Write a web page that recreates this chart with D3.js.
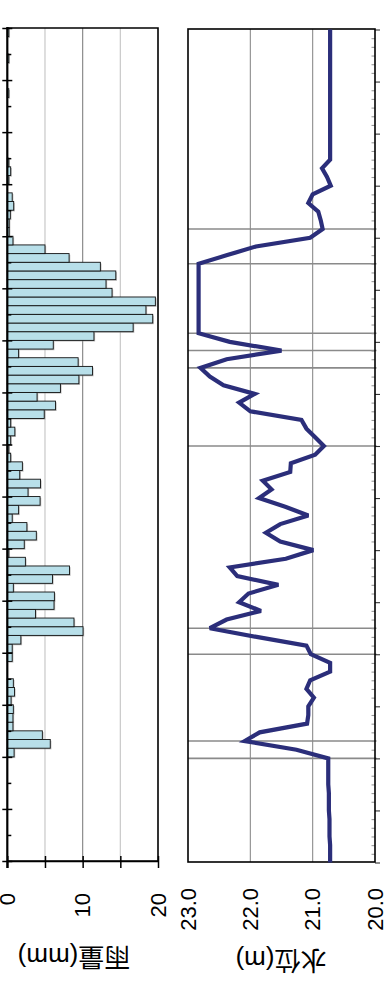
<!DOCTYPE html>
<html>
<head>
<meta charset="utf-8">
<script src="https://cdn.jsdelivr.net/npm/d3@7"></script>
<style>
  html, body { margin: 0; padding: 0; background: #fff; }
  svg { display: block; }
  text { font-family: "Liberation Sans", Arial, "Noto Sans CJK JP", sans-serif; fill: #000; }
</style>
</head>
<body>
<script>
// hourly rainfall (mm), hour 0 .. 95 (chart is drawn turned, time runs bottom -> top)
const rain = [
  0, 0, 0, 0, 0, 0, 0, 0, 0, 0, 0, 0,
  0.9, 5.7, 4.65, 0.75, 0.75, 0.8, 0.5, 0.95, 0.8, 0, 0, 0.65,
  0.65, 1.8, 10.05, 8.85, 3.75, 6.2, 6.25, 0.8, 6.0, 8.25, 2.4, 0.2,
  2.25, 3.85, 2.6, 0.65, 1.5, 4.35, 2.75, 4.4, 1.65, 2.0, 0.45, 0.2,
  0.45, 1.0, 0.45, 4.9, 6.4, 3.95, 7.05, 9.5, 11.3, 9.4, 1.5, 6.1,
  11.5, 16.7, 19.3, 18.4, 19.65, 13.9, 13.1, 14.4, 12.35, 8.2, 5.0, 0.75,
  0.25, 0.25, 0.4, 0.85, 0.65, 0, 0.2, 0.45, 0.2, 0, 0, 0,
  0, 0, 0, 0, 0.2, 0, 0, 0, 0.2, 0, 0, 0.2
];

// water level (m), hour 0 .. 96
const level = [
  20.72, 20.72, 20.72, 20.73, 20.73, 20.73, 20.74, 20.74, 20.74, 20.75, 20.75, 20.75,
  20.75, 21.26, 22.09, 21.85, 21.09, 21.07, 21.07, 20.98, 21.10, 21.04, 20.72, 20.72,
  21.03, 21.10, 21.90, 22.65, 22.38, 21.83, 22.18, 22.03, 21.55, 22.21, 22.33, 21.43,
  20.99, 21.52, 21.75, 21.52, 21.07, 21.44, 21.86, 21.66, 21.80, 21.36, 21.35, 20.96,
  20.82, 20.96, 21.10, 21.18, 22.00, 22.18, 21.93, 22.43, 22.65, 22.80, 22.38, 21.50,
  22.33, 22.83, 22.83, 22.83, 22.83, 22.83, 22.83, 22.83, 22.83, 22.83, 22.37, 21.91,
  21.04, 20.84, 20.87, 20.91, 21.07, 21.00, 20.71, 20.77, 20.85, 20.72, 20.72, 20.72,
  20.72, 20.72, 20.72, 20.72, 20.72, 20.72, 20.72, 20.72, 20.72, 20.72, 20.72, 20.72,
  20.72
];

// hours marked with a grey line on the level panel
const markHours = [12, 14, 24, 27, 48, 57, 59, 61, 69, 73];

const rainTicks = [0, 10, 20];
const rainGrid = [5, 10, 15];
const levelTicks = [23, 22, 21, 20];
const levelGrid = [22, 21];

const rainTitle = "雨量(mm)";
const levelTitle = "水位(m)";

const W = 388, H = 983;
const svg = d3.select("body").append("svg")
  .attr("width", W).attr("height", H);

// ---------- rainfall panel ----------
const rTop = 28, rBot = 861, rLeft = 7.3, rRight = 158;

const xRain = d3.scaleLinear().domain([0, 20]).range([rLeft, rRight]);
const yRain = d3.scaleBand().domain(d3.range(rain.length)).range([rBot, rTop]);
const yHour = d3.scaleLinear().domain([0, 96]).range([rBot, rTop]);

svg.append("g").selectAll("line").data(rainGrid).join("line")
  .attr("x1", d => xRain(d)).attr("x2", d => xRain(d))
  .attr("y1", rTop).attr("y2", rBot)
  .attr("stroke", d => d === 10 ? "#8c8c8c" : "#c8c8c8")
  .attr("stroke-width", 1.2);

const bars = svg.append("g");
const rainData = rain.map((v, i) => ({ v, i })).filter(d => d.v > 0);

bars.selectAll("rect.shadow").data(rainData).join("rect")
  .attr("class", "shadow")
  .attr("x", xRain(0) + 1.2)
  .attr("y", d => yRain(d.i) + 1.2)
  .attr("width", d => xRain(d.v) - xRain(0))
  .attr("height", yRain.bandwidth())
  .attr("fill", "#8f8f8f").attr("opacity", 0.55);

bars.selectAll("rect.bar").data(rainData).join("rect")
  .attr("class", "bar")
  .attr("x", xRain(0))
  .attr("y", d => yRain(d.i))
  .attr("width", d => xRain(d.v) - xRain(0))
  .attr("height", yRain.bandwidth())
  .attr("fill", "#b8dfe9")
  .attr("stroke", "#111").attr("stroke-width", 0.9);

// frame
svg.append("path")
  .attr("d", `M${rLeft},${rTop}H${rRight}V${rBot}H${rLeft}`)
  .attr("fill", "none").attr("stroke", "#000").attr("stroke-width", 1.6);

// time axis of rain panel (left)
const minorAx = svg.append("g").attr("transform", `translate(${rLeft},0)`)
  .call(d3.axisRight(yHour).tickValues(d3.range(3, 96, 6)).tickSize(4).tickFormat(""));
minorAx.select(".domain").remove();
minorAx.selectAll("line").attr("stroke", "#000").attr("stroke-width", 1.5);

const majorAx = svg.append("g").attr("transform", `translate(${rLeft},0)`)
  .call(d3.axisRight(yHour).tickValues(d3.range(0, 97, 6)).tickSize(5).tickSizeOuter(0).tickFormat(""));
majorAx.select(".domain").remove();
majorAx.selectAll("line").attr("x1", -5).attr("stroke", "#000").attr("stroke-width", 1.5);

svg.append("line")
  .attr("x1", rLeft).attr("x2", rLeft).attr("y1", rTop - 1).attr("y2", rBot + 7)
  .attr("stroke", "#000").attr("stroke-width", 2.2);

// value axis of rain panel (bottom)
const rainAx = svg.append("g").attr("transform", `translate(0,${rBot})`)
  .call(d3.axisBottom(xRain).tickValues([0, 5, 10, 15, 20]).tickSize(7).tickSizeOuter(0).tickFormat(""));
rainAx.select(".domain").attr("stroke-width", 1.6);
rainAx.selectAll("line").attr("y1", -5).attr("stroke-width", 1.5);

svg.append("g").selectAll("text").data(rainTicks).join("text")
  .attr("transform", d => `translate(${xRain(d)},893) rotate(-90)`)
  .attr("text-anchor", "end")
  .attr("dominant-baseline", "central")
  .attr("font-size", 22)
  .text(d => d);

svg.append("text")
  .attr("transform", "translate(74,957) rotate(180)")
  .attr("text-anchor", "middle")
  .attr("dominant-baseline", "central")
  .attr("font-size", 26)
  .text(rainTitle);

// ---------- water level panel ----------
const lTop = 29, lBot = 862, lLeft = 188, lRight = 375;

const xLevel = d3.scaleLinear().domain([23, 20]).range([lLeft, lRight]);
const yTime = d3.scaleLinear().domain([0, 96]).range([862.5, 29.5]);

svg.append("g").selectAll("line").data(levelGrid).join("line")
  .attr("x1", d => xLevel(d)).attr("x2", d => xLevel(d))
  .attr("y1", lTop).attr("y2", lBot)
  .attr("stroke", "#8c8c8c").attr("stroke-width", 1.1);

svg.append("g").selectAll("line").data(markHours).join("line")
  .attr("x1", lLeft).attr("x2", lRight + 1.5)
  .attr("y1", d => yTime(d)).attr("y2", d => yTime(d))
  .attr("stroke", "#8a8a8a").attr("stroke-width", 1.6);

// right-hand hour ticks
const hourAx = svg.append("g").attr("transform", `translate(${lRight},0)`)
  .call(d3.axisLeft(yTime).tickValues(d3.range(0, 97).filter(h => h % 6 !== 0)).tickSize(3.5).tickFormat(""));
hourAx.select(".domain").remove();
hourAx.selectAll("line").attr("stroke", "#9a9a9a").attr("stroke-width", 1.1);

const dayAx = svg.append("g").attr("transform", `translate(${lRight},0)`)
  .call(d3.axisLeft(yTime).tickValues(d3.range(0, 97, 6)).tickSize(5).tickFormat(""));
dayAx.select(".domain").remove();
dayAx.selectAll("line").attr("x2", 5).attr("stroke", "#333").attr("stroke-width", 1.1);

svg.append("rect")
  .attr("x", lLeft).attr("y", lTop)
  .attr("width", lRight - lLeft).attr("height", lBot - lTop)
  .attr("fill", "none").attr("stroke", "#000").attr("stroke-width", 1.6);

const levelLine = d3.line()
  .x(d => xLevel(d))
  .y((d, i) => yTime(i));

svg.append("path")
  .datum(level)
  .attr("d", levelLine)
  .attr("fill", "none")
  .attr("stroke", "#2b2e7a")
  .attr("stroke-width", 4.2)
  .attr("stroke-linejoin", "miter")
  .attr("stroke-miterlimit", 3);

svg.append("g").selectAll("text").data(levelTicks).join("text")
  .attr("transform", d => `translate(${xLevel(d)},888) rotate(-90)`)
  .attr("text-anchor", "end")
  .attr("dominant-baseline", "central")
  .attr("font-size", 22)
  .text(d => d3.format(".1f")(d));

svg.append("text")
  .attr("transform", "translate(281,960) rotate(180)")
  .attr("text-anchor", "middle")
  .attr("dominant-baseline", "central")
  .attr("font-size", 26)
  .text(levelTitle);
</script>
</body>
</html>
